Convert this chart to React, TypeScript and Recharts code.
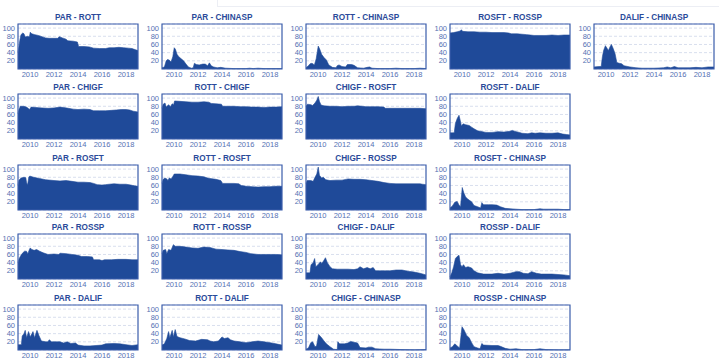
import { AreaChart, Area, XAxis, YAxis, CartesianGrid, ReferenceArea } from 'recharts';

type Pt = [number, number];

const parRott: Pt[] = [[2009,40],[2009.08,55],[2009.15,70],[2009.25,84],[2009.4,88],[2009.5,86],[2009.6,78],[2009.8,80],[2009.95,78],[2010.02,90],[2010.15,86],[2010.4,84],[2010.7,82],[2011,79],[2011.3,76],[2011.6,75],[2012,75],[2012.3,75],[2012.45,79],[2012.7,76],[2013,73],[2013.15,69],[2013.6,68],[2013.95,66],[2014.05,55],[2014.5,55],[2014.95,54],[2015.3,51],[2015.8,50],[2016.3,50],[2016.6,52],[2017,52],[2017.4,53],[2017.8,52],[2018.2,51],[2018.5,50],[2018.8,47],[2019,45]];
const parChinasp: Pt[] = [[2009,3],[2009.2,5],[2009.35,20],[2009.45,23],[2009.6,22],[2009.75,17],[2009.9,30],[2010.02,52],[2010.12,48],[2010.25,36],[2010.4,30],[2010.6,25],[2010.8,20],[2011,12],[2011.2,5],[2011.45,2],[2011.6,3],[2011.7,14],[2011.85,11],[2012.1,10],[2012.4,12],[2012.6,12],[2012.8,8],[2012.95,15],[2013.1,8],[2013.3,5],[2013.6,3],[2013.9,4],[2014.3,2],[2015,1],[2016,1],[2016.3,2],[2016.6,1],[2017,2],[2017.5,1],[2018,1],[2019,1]];
const rottChinasp: Pt[] = [[2009,3],[2009.2,8],[2009.35,13],[2009.5,14],[2009.7,10],[2009.85,25],[2010.02,56],[2010.15,48],[2010.3,36],[2010.5,28],[2010.7,22],[2010.9,10],[2011.2,4],[2011.5,3],[2011.6,8],[2011.75,10],[2012,6],[2012.3,5],[2012.45,11],[2012.8,11],[2013,9],[2013.3,3],[2013.8,2],[2014.1,4],[2014.3,5],[2014.5,2],[2015,1],[2016,1],[2016.5,2],[2017,1],[2018,1],[2018.5,2],[2019,1]];
const rosftRossp: Pt[] = [[2009,88],[2009.3,89],[2009.6,91],[2009.85,93],[2009.95,96],[2010.05,92],[2010.5,91],[2011,91],[2011.5,90],[2012,90],[2012.5,89],[2013,89],[2013.5,89],[2013.9,88],[2014.1,86],[2014.6,86],[2015,85],[2015.4,84],[2015.7,83],[2016,82],[2017,82],[2017.5,83],[2018,82],[2018.5,83],[2019,83]];
const dalifChinasp: Pt[] = [[2009,5],[2009.4,6],[2009.6,6],[2009.7,30],[2009.8,45],[2009.95,57],[2010.1,50],[2010.2,45],[2010.35,55],[2010.45,60],[2010.6,50],[2010.75,38],[2010.9,16],[2011.1,14],[2011.3,13],[2011.5,8],[2012,5],[2012.5,3],[2013,2],[2014,2],[2014.8,3],[2015.1,5],[2015.4,3],[2015.7,6],[2016,3],[2016.5,3],[2017,3],[2017.5,4],[2018,3],[2018.5,5],[2019,5]];
const parChigf: Pt[] = [[2009,62],[2009.08,72],[2009.2,80],[2009.45,80],[2009.7,78],[2009.85,75],[2009.95,72],[2010.1,78],[2010.5,77],[2011,76],[2011.5,75],[2012,76],[2012.5,78],[2012.8,77],[2013.2,75],[2013.6,73],[2014,72],[2014.5,73],[2015,72],[2015.3,69],[2015.8,69],[2016.3,69],[2016.8,70],[2017.2,71],[2017.6,72],[2018,72],[2018.3,71],[2018.6,68],[2019,66]];
const rottChigf: Pt[] = [[2009,75],[2009.1,85],[2009.25,88],[2009.35,78],[2009.55,84],[2009.7,79],[2009.85,86],[2009.97,84],[2010.05,93],[2010.5,92],[2011,91],[2011.5,90],[2012,90],[2012.5,91],[2012.9,90],[2013.1,87],[2013.5,86],[2013.95,85],[2014.05,80],[2014.5,80],[2015,80],[2015.5,79],[2016,79],[2016.5,78],[2017,78],[2017.5,77],[2018,78],[2018.5,78],[2019,79]];
const chigfRosft: Pt[] = [[2009,80],[2009.12,85],[2009.4,84],[2009.55,82],[2009.75,88],[2009.9,95],[2010.02,104],[2010.12,92],[2010.25,83],[2010.5,81],[2011,80],[2011.5,80],[2012,79],[2012.5,80],[2013,80],[2013.3,81],[2013.7,80],[2014,79],[2014.5,79],[2015,79],[2015.5,78],[2015.6,75],[2016,75],[2016.5,75],[2017,75],[2017.5,75],[2018,75],[2018.5,75],[2019,74]];
const rosftDalif: Pt[] = [[2009,15],[2009.35,15],[2009.45,38],[2009.6,50],[2009.75,58],[2009.85,46],[2009.95,32],[2010.1,37],[2010.3,35],[2010.6,33],[2010.8,29],[2011,25],[2011.3,20],[2011.7,18],[2012,16],[2012.5,16],[2013,18],[2013.5,17],[2014,19],[2014.2,21],[2014.5,18],[2014.8,16],[2015,14],[2015.5,13],[2015.8,15],[2016.1,14],[2016.5,15],[2017,14],[2017.5,14],[2018,15],[2018.4,12],[2018.7,11],[2019,10]];
const parRosft: Pt[] = [[2009,60],[2009.08,73],[2009.25,78],[2009.5,80],[2009.65,79],[2009.72,66],[2009.8,62],[2009.9,80],[2009.98,83],[2010.3,80],[2010.8,77],[2011.3,74],[2012,72],[2012.5,71],[2013,72],[2013.5,70],[2014,68],[2014.5,68],[2015,67],[2015.3,65],[2015.6,62],[2016,61],[2016.3,62],[2016.6,63],[2017,64],[2017.5,63],[2018,63],[2018.4,61],[2018.7,59],[2019,58]];
const rottRosft: Pt[] = [[2009,65],[2009.1,75],[2009.25,78],[2009.4,76],[2009.5,72],[2009.6,78],[2009.75,76],[2009.9,82],[2010.02,88],[2010.5,88],[2011,86],[2011.5,84],[2012,83],[2012.5,81],[2012.8,78],[2013,77],[2013.5,75],[2013.9,72],[2014.05,65],[2014.5,65],[2015,65],[2015.4,64],[2015.6,60],[2016,58],[2016.5,57],[2017,56],[2017.5,57],[2018,57],[2018.5,58],[2019,58]];
const chigfRossp: Pt[] = [[2009,65],[2009.1,72],[2009.4,72],[2009.6,70],[2009.75,80],[2009.9,88],[2010.02,105],[2010.12,85],[2010.3,78],[2010.45,80],[2010.65,74],[2011,72],[2011.5,73],[2012,73],[2012.5,76],[2013,75],[2013.5,75],[2014,74],[2014.5,72],[2015,70],[2015.5,67],[2016,65],[2016.5,64],[2017,64],[2017.5,64],[2018,64],[2018.5,64],[2018.7,63],[2019,62]];
const rosftChinasp: Pt[] = [[2009,5],[2009.2,10],[2009.4,19],[2009.6,21],[2009.75,12],[2009.88,8],[2010.02,55],[2010.15,42],[2010.3,32],[2010.5,26],[2010.8,20],[2011,11],[2011.3,8],[2011.55,5],[2011.65,18],[2011.8,13],[2012.2,13],[2012.5,13],[2012.9,12],[2013.2,8],[2013.6,4],[2014,3],[2014.5,2],[2015,1],[2016,1],[2016.5,3],[2016.8,2],[2017.5,2],[2018,2],[2018.5,1],[2019,1]];
const parRossp: Pt[] = [[2009,40],[2009.1,50],[2009.25,58],[2009.4,64],[2009.55,68],[2009.7,68],[2009.82,62],[2009.95,72],[2010.02,76],[2010.15,72],[2010.35,70],[2010.55,72],[2010.8,68],[2011.1,64],[2011.5,60],[2012,61],[2012.4,60],[2012.5,63],[2013,62],[2013.5,60],[2014,58],[2014.3,55],[2014.8,55],[2015.2,54],[2015.3,47],[2015.8,47],[2016,45],[2016.2,47],[2016.8,47],[2017.3,48],[2018,48],[2018.5,47],[2019,47]];
const rottRossp: Pt[] = [[2009,62],[2009.1,70],[2009.3,72],[2009.4,62],[2009.55,72],[2009.75,70],[2009.95,84],[2010.1,80],[2010.5,80],[2011,78],[2011.5,76],[2012,75],[2012.5,78],[2013,77],[2013.5,73],[2014,72],[2014.5,71],[2015,70],[2015.5,67],[2016,65],[2016.4,62],[2017,60],[2017.5,60],[2018,60],[2018.5,60],[2019,59]];
const chigfDalif: Pt[] = [[2009,15],[2009.33,15],[2009.42,35],[2009.6,40],[2009.72,50],[2009.82,30],[2010,35],[2010.2,42],[2010.32,38],[2010.5,46],[2010.62,52],[2010.78,40],[2011,30],[2011.2,25],[2011.6,24],[2012,24],[2012.5,24],[2013,23],[2013.3,25],[2013.5,30],[2013.8,25],[2014.1,28],[2014.35,25],[2014.6,28],[2014.8,20],[2015.5,20],[2016,20],[2016.5,22],[2017,22],[2017.5,19],[2018,17],[2018.5,14],[2019,10]];
const rosspDalif: Pt[] = [[2009,5],[2009.15,15],[2009.3,30],[2009.45,50],[2009.6,55],[2009.75,58],[2009.88,35],[2010,30],[2010.12,35],[2010.3,28],[2010.5,30],[2010.8,27],[2011,20],[2011.3,15],[2011.8,12],[2012.5,12],[2013,14],[2013.5,12],[2014,14],[2014.5,18],[2014.8,18],[2015.1,14],[2015.5,13],[2015.8,18],[2016.2,14],[2016.6,12],[2017,12],[2017.5,12],[2018,11],[2018.5,10],[2019,8]];
const parDalif: Pt[] = [[2009,13],[2009.28,13],[2009.35,34],[2009.5,40],[2009.6,48],[2009.72,30],[2009.88,45],[2010.02,32],[2010.25,45],[2010.38,30],[2010.58,48],[2010.75,35],[2010.95,22],[2011.3,20],[2011.5,20],[2011.6,25],[2011.8,20],[2012.5,20],[2012.8,17],[2013.1,20],[2013.4,16],[2013.8,17],[2014,12],[2014.5,10],[2015,10],[2015.5,11],[2016,12],[2016.3,15],[2017,16],[2017.5,15],[2018,13],[2018.5,11],[2019,13]];
const rottDalif: Pt[] = [[2009,12],[2009.2,15],[2009.4,28],[2009.55,45],[2009.65,30],[2009.85,48],[2009.95,32],[2010.1,50],[2010.25,33],[2010.5,30],[2010.9,27],[2011.3,23],[2011.8,22],[2012.3,26],[2012.8,25],[2013,22],[2013.3,20],[2013.7,22],[2014,32],[2014.2,28],[2014.5,30],[2014.7,25],[2015,22],[2015.5,20],[2016,18],[2016.5,20],[2017,22],[2017.5,20],[2018,18],[2018.5,15],[2019,12]];
const chigfChinasp: Pt[] = [[2009,2],[2009.2,5],[2009.4,18],[2009.55,20],[2009.75,8],[2009.88,10],[2010.05,38],[2010.3,30],[2010.5,22],[2010.7,15],[2011,8],[2011.3,2],[2011.6,1],[2011.65,20],[2011.8,15],[2012.2,15],[2012.5,17],[2012.7,21],[2013,19],[2013.3,17],[2013.5,6],[2014,5],[2014.2,7],[2014.5,7],[2014.8,3],[2015.5,2],[2016,2],[2017,1],[2018,0.5],[2019,1]];
const rosspChinasp: Pt[] = [[2009,5],[2009.2,8],[2009.4,15],[2009.6,10],[2009.8,5],[2010,57],[2010.15,50],[2010.4,35],[2010.6,30],[2010.8,18],[2011,8],[2011.3,5],[2011.5,3],[2011.65,16],[2011.8,12],[2012.5,11],[2013,11],[2013.2,9],[2013.6,4],[2014,2],[2014.5,3],[2015,1],[2016,1],[2016.5,3],[2017,1],[2018,0.5],[2019,0.5]];

const xTicks = [2010, 2012, 2014, 2016, 2018];
const yTicks = [20, 40, 60, 80, 100];

// [title, series, row, col]
const panels: [string, Pt[], number, number][] = [
  ['PAR - ROTT', parRott, 0, 0],
  ['PAR - CHINASP', parChinasp, 0, 1],
  ['ROTT - CHINASP', rottChinasp, 0, 2],
  ['ROSFT - ROSSP', rosftRossp, 0, 3],
  ['DALIF - CHINASP', dalifChinasp, 0, 4],
  ['PAR - CHIGF', parChigf, 1, 0],
  ['ROTT - CHIGF', rottChigf, 1, 1],
  ['CHIGF - ROSFT', chigfRosft, 1, 2],
  ['ROSFT - DALIF', rosftDalif, 1, 3],
  ['PAR - ROSFT', parRosft, 2, 0],
  ['ROTT - ROSFT', rottRosft, 2, 1],
  ['CHIGF - ROSSP', chigfRossp, 2, 2],
  ['ROSFT - CHINASP', rosftChinasp, 2, 3],
  ['PAR - ROSSP', parRossp, 3, 0],
  ['ROTT - ROSSP', rottRossp, 3, 1],
  ['CHIGF - DALIF', chigfDalif, 3, 2],
  ['ROSSP - DALIF', rosspDalif, 3, 3],
  ['PAR - DALIF', parDalif, 4, 0],
  ['ROTT - DALIF', rottDalif, 4, 1],
  ['CHIGF - CHINASP', chigfChinasp, 4, 2],
  ['ROSSP - CHINASP', rosspChinasp, 4, 3],
];

const rowTop = [0, 70, 141, 210, 281];
const FILL = '#1f4a99';
const FONT = '"Liberation Sans", Arial, sans-serif';
const tickStyle = { fontSize: 7.5, fill: '#5571b3', fontFamily: FONT };

const Panel = ({ title, series, row, col }: { title: string; series: Pt[]; row: number; col: number }) => {
  const data = series.map(([t, v]) => ({ t, v }));
  const left = col * 144;
  const top = rowTop[row];
  return (
    <>
      <div
        style={{
          position: 'absolute',
          left: left + 18,
          top: top + 12,
          width: 120,
          lineHeight: '12px',
          textAlign: 'center',
          fontFamily: FONT,
          fontWeight: 'bold',
          fontSize: 8.2,
          color: '#2a4a9a',
          whiteSpace: 'nowrap',
        }}
      >
        {title}
      </div>
      <div style={{ position: 'absolute', left, top }}>
        <AreaChart width={144} height={83} data={data} margin={{ top: 24, right: 6, bottom: 0, left: 0 }}>
          <CartesianGrid horizontal vertical={false} stroke="#d9dfee" strokeDasharray="3 2" />
          <XAxis
            dataKey="t"
            type="number"
            domain={[2009, 2019]}
            ticks={xTicks}
            interval={0}
            tickLine={false}
            axisLine={false}
            tickSize={0}
            tickMargin={3}
            height={14}
            tick={tickStyle}
          />
          <YAxis
            type="number"
            domain={[0, 110]}
            ticks={yTicks}
            interval={0}
            width={18}
            tickLine={false}
            axisLine={false}
            tickSize={0}
            tickMargin={3}
            tick={tickStyle}
          />
          <Area
            type="linear"
            dataKey="v"
            stroke={FILL}
            strokeWidth={0.6}
            fill={FILL}
            fillOpacity={1}
            isAnimationActive={false}
            dot={false}
            activeDot={false}
          />
          <ReferenceArea x1={2009} x2={2019} y1={0} y2={110} fill="none" stroke="#3a5dab" strokeWidth={1.2} />
        </AreaChart>
      </div>
    </>
  );
};

export default function App() {
  return (
    <div style={{ position: 'absolute', left: 0, top: 0, width: 719, height: 361, background: '#fff', overflow: 'hidden' }}>
      <div style={{ position: 'absolute', left: 217, top: 0, width: 502, height: 6, borderLeft: '1px solid #eceef4', borderBottom: '1px solid #eceef4' }} />
      {panels.map(([title, series, row, col]) => (
        <Panel key={title} title={title} series={series} row={row} col={col} />
      ))}
    </div>
  );
}
